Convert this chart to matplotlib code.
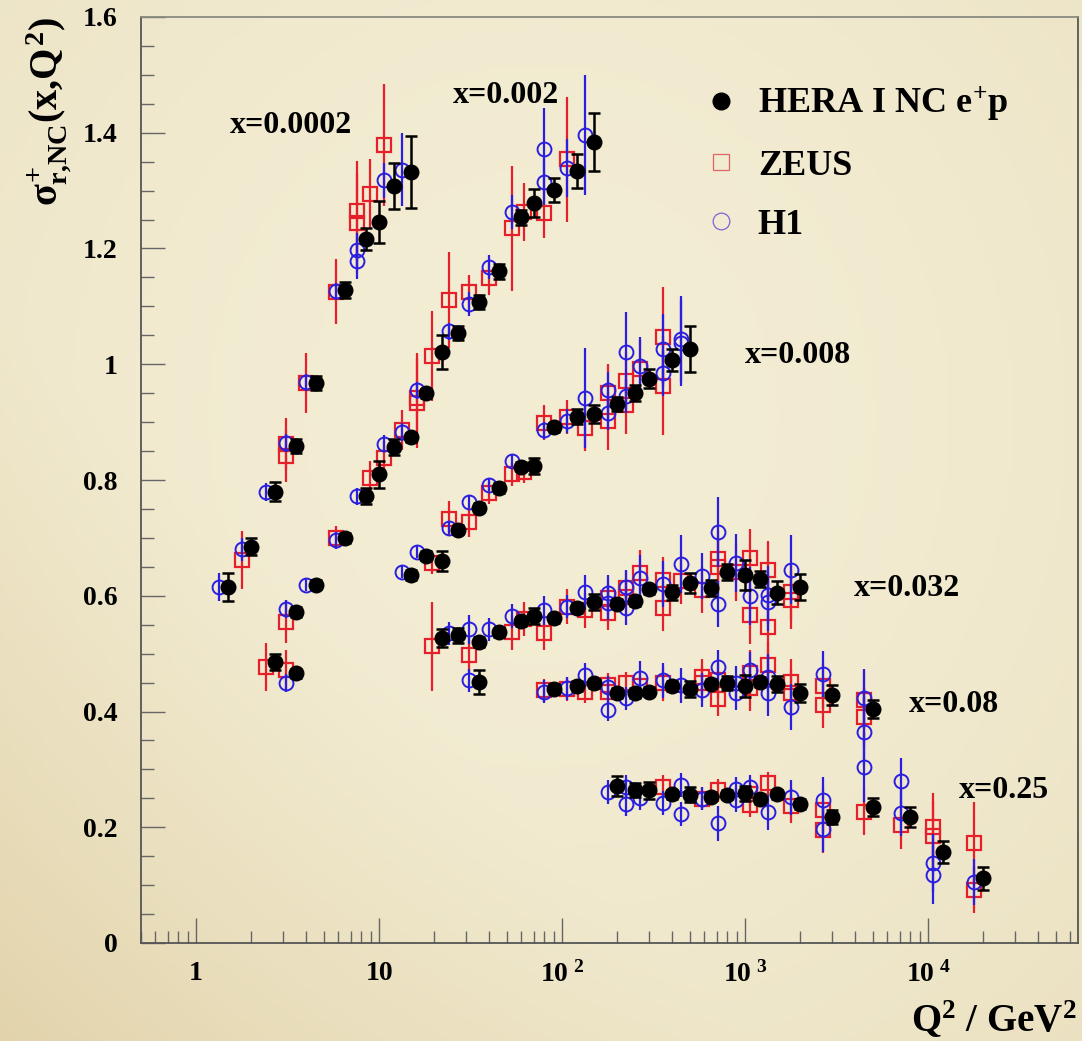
import numpy as np
import matplotlib
matplotlib.use("Agg")
import matplotlib.pyplot as plt
from matplotlib.lines import Line2D
from matplotlib.ticker import FixedLocator, FixedFormatter, LogLocator, MultipleLocator, FuncFormatter

plt.rcParams['font.family'] = ['Liberation Serif', 'DejaVu Serif']
plt.rcParams['font.weight'] = 'bold'
plt.rcParams['mathtext.fontset'] = 'custom'
plt.rcParams['mathtext.rm'] = 'Liberation Serif:bold'
plt.rcParams['mathtext.it'] = 'Liberation Serif:bold'
plt.rcParams['mathtext.bf'] = 'Liberation Serif:bold'

# ---------------- data ----------------
x_bins = ['x=0.0002', 'x=0.002', 'x=0.008', 'x=0.032', 'x=0.08', 'x=0.25']

# HERA I combined, per x bin: Q2, sigma_r, error
hera_q2 = [
    [1.5, 2, 2.7, 3.5, 4.5, 6.5, 8.5, 10, 12, 15],
    [3.5, 4.5, 6.5, 8.5, 10, 12, 15, 18, 22, 27, 35, 45, 60, 70, 90, 120, 150],
    [2.7, 3.5, 15, 18, 22, 27, 35, 45, 60, 70, 90, 120, 150, 200, 250, 300, 400, 500],
    [22, 27, 35, 45, 60, 70, 90, 120, 150, 200, 250, 300, 400, 500, 650, 800, 1000, 1200, 1500, 2000],
    [35, 90, 120, 150, 200, 250, 300, 400, 500, 650, 800, 1000, 1200, 1500, 2000, 3000, 5000],
    [200, 250, 300, 400, 500, 650, 800, 1000, 1200, 1500, 2000, 3000, 5000, 8000, 12000, 20000],
]
hera_sig = [
    [0.615, 0.685, 0.780, 0.859, 0.968, 1.128, 1.216, 1.246, 1.308, 1.332],
    [0.572, 0.619, 0.700, 0.772, 0.810, 0.857, 0.874, 0.950, 1.021, 1.054, 1.108, 1.161, 1.254, 1.278, 1.301, 1.334, 1.384],
    [0.486, 0.466, 0.636, 0.669, 0.660, 0.714, 0.752, 0.786, 0.823, 0.824, 0.891, 0.909, 0.914, 0.931, 0.950, 0.975, 1.007, 1.026],
    [0.527, 0.532, 0.520, 0.537, 0.556, 0.565, 0.561, 0.579, 0.589, 0.586, 0.591, 0.611, 0.606, 0.622, 0.613, 0.641, 0.636, 0.629, 0.605, 0.615],
    [0.451, 0.439, 0.444, 0.449, 0.432, 0.432, 0.434, 0.444, 0.439, 0.448, 0.449, 0.444, 0.451, 0.448, 0.432, 0.429, 0.404],
    [0.271, 0.264, 0.264, 0.257, 0.256, 0.253, 0.256, 0.259, 0.249, 0.257, 0.240, 0.218, 0.235, 0.218, 0.157, 0.112],
]
hera_err = [
    [0.024, 0.015, 0.016, 0.012, 0.012, 0.014, 0.019, 0.036, 0.039, 0.062],
    [0.008, 0.008, 0.008, 0.014, 0.023, 0.013, 0.008, 0.008, 0.030, 0.012, 0.012, 0.013, 0.013, 0.024, 0.020, 0.029, 0.050],
    [0.014, 0.008, 0.008, 0.008, 0.018, 0.008, 0.008, 0.008, 0.008, 0.014, 0.008, 0.013, 0.016, 0.012, 0.014, 0.016, 0.019, 0.040],
    [0.016, 0.013, 0.008, 0.008, 0.008, 0.014, 0.008, 0.008, 0.014, 0.008, 0.008, 0.008, 0.013, 0.018, 0.014, 0.014, 0.026, 0.014, 0.020, 0.023],
    [0.021, 0.008, 0.008, 0.008, 0.008, 0.008, 0.008, 0.008, 0.014, 0.008, 0.012, 0.019, 0.008, 0.014, 0.015, 0.017, 0.016],
    [0.017, 0.012, 0.015, 0.008, 0.013, 0.008, 0.008, 0.013, 0.008, 0.008, 0.008, 0.012, 0.015, 0.017, 0.019, 0.020],
]

# ZEUS
zeus_q2 = [
    [2, 3.5, 3.5, 4.5, 6.5, 8.5, 8.5, 10, 12],
    [3.5, 6.5, 10, 12, 15, 18, 18, 22, 27, 35, 45, 60, 70, 90, 120],
    [2.7, 3.5, 22, 27, 35, 45, 60, 70, 90, 120, 150, 200, 200, 250, 250, 300, 400, 400],
    [22, 35, 60, 70, 90, 120, 150, 200, 200, 250, 250, 300, 400, 400, 500, 650, 800, 800, 1000, 1200, 1200, 1500, 1500, 2000, 2000],
    [90, 120, 150, 200, 200, 250, 300, 400, 650, 650, 800, 800, 1200, 1200, 1500, 2000, 2000, 3000, 3000, 5000, 5000],
    [400, 650, 800, 1200, 1200, 1500, 2000, 3000, 3000, 5000, 8000, 12000, 12000, 20000, 20000],
]
zeus_sig = [
    [0.662, 0.862, 0.841, 0.968, 1.125, 1.265, 1.244, 1.294, 1.379],
    [0.555, 0.700, 0.803, 0.838, 0.886, 0.942, 0.933, 1.014, 1.111, 1.125, 1.149, 1.235, 1.263, 1.261, 1.354],
    [0.477, 0.472, 0.657, 0.733, 0.727, 0.778, 0.810, 0.814, 0.899, 0.909, 0.890, 0.950, 0.902, 0.971, 0.930, 0.992, 1.047, 0.963],
    [0.513, 0.498, 0.537, 0.560, 0.536, 0.581, 0.575, 0.596, 0.570, 0.613, 0.597, 0.639, 0.627, 0.579, 0.625, 0.610, 0.663, 0.650, 0.641, 0.665, 0.567, 0.645, 0.546, 0.607, 0.593],
    [0.437, 0.439, 0.434, 0.434, 0.446, 0.449, 0.444, 0.449, 0.460, 0.449, 0.422, 0.454, 0.467, 0.441, 0.480, 0.451, 0.432, 0.444, 0.411, 0.420, 0.391],
    [0.270, 0.249, 0.264, 0.257, 0.238, 0.276, 0.237, 0.230, 0.195, 0.226, 0.204, 0.200, 0.185, 0.173, 0.092],
]
zeus_err = [
    [0.050, 0.045, 0.045, 0.052, 0.056, 0.087, 0.087, 0.060, 0.106],
    [0.037, 0.020, 0.030, 0.030, 0.035, 0.078, 0.078, 0.078, 0.083, 0.030, 0.030, 0.108, 0.050, 0.042, 0.108],
    [0.042, 0.035, 0.020, 0.030, 0.025, 0.020, 0.020, 0.020, 0.030, 0.030, 0.040, 0.050, 0.050, 0.050, 0.050, 0.050, 0.086, 0.086],
    [0.077, 0.030, 0.030, 0.030, 0.030, 0.030, 0.030, 0.030, 0.030, 0.030, 0.030, 0.040, 0.040, 0.040, 0.040, 0.040, 0.050, 0.050, 0.050, 0.050, 0.050, 0.050, 0.080, 0.050, 0.050],
    [0.020, 0.020, 0.020, 0.020, 0.020, 0.020, 0.020, 0.030, 0.030, 0.030, 0.030, 0.030, 0.040, 0.040, 0.040, 0.040, 0.040, 0.040, 0.040, 0.050, 0.050],
    [0.020, 0.020, 0.020, 0.020, 0.020, 0.020, 0.030, 0.040, 0.040, 0.040, 0.042, 0.060, 0.060, 0.070, 0.040],
]

# H1
h1_q2 = [
    [1.5, 2, 2.7, 3.5, 4.5, 6.5, 8.5, 8.5, 12, 15],
    [3.5, 4.5, 6.5, 8.5, 12, 15, 18, 27, 35, 45, 60, 90, 90, 120, 150],
    [3.5, 15, 18, 27, 35, 45, 60, 90, 120, 150, 200, 200, 250, 250, 300, 400, 400, 500, 500],
    [27, 35, 45, 60, 90, 120, 150, 200, 200, 250, 250, 300, 400, 500, 650, 800, 800, 1000, 1200, 1500, 1500, 2000],
    [35, 90, 120, 150, 200, 200, 250, 300, 400, 500, 650, 800, 1000, 1000, 1200, 1500, 1500, 2000, 3000, 5000, 5000],
    [200, 250, 250, 300, 400, 500, 500, 650, 800, 1000, 1000, 1200, 1500, 2000, 3000, 3000, 5000, 8000, 8000, 12000, 12000, 20000],
]
h1_sig = [
    [0.615, 0.680, 0.779, 0.864, 0.969, 1.126, 1.197, 1.178, 1.318, 1.336],
    [0.577, 0.619, 0.696, 0.772, 0.863, 0.883, 0.955, 1.057, 1.104, 1.168, 1.263, 1.315, 1.372, 1.339, 1.396],
    [0.449, 0.641, 0.676, 0.717, 0.762, 0.791, 0.833, 0.886, 0.902, 0.942, 0.956, 0.916, 1.021, 0.945, 0.997, 1.026, 0.985, 1.037, 1.044],
    [0.535, 0.542, 0.542, 0.565, 0.575, 0.581, 0.606, 0.605, 0.588, 0.615, 0.579, 0.630, 0.620, 0.655, 0.634, 0.710, 0.586, 0.657, 0.600, 0.601, 0.589, 0.645],
    [0.454, 0.434, 0.440, 0.463, 0.442, 0.403, 0.423, 0.458, 0.454, 0.445, 0.437, 0.477, 0.449, 0.432, 0.472, 0.460, 0.432, 0.408, 0.465, 0.423, 0.365],
    [0.261, 0.240, 0.270, 0.250, 0.242, 0.273, 0.223, 0.249, 0.207, 0.266, 0.247, 0.270, 0.226, 0.252, 0.247, 0.197, 0.304, 0.280, 0.225, 0.138, 0.118, 0.105],
]
h1_err = [
    [0.024, 0.020, 0.015, 0.015, 0.015, 0.015, 0.030, 0.030, 0.030, 0.063],
    [0.015, 0.010, 0.015, 0.015, 0.015, 0.015, 0.015, 0.015, 0.020, 0.020, 0.030, 0.040, 0.070, 0.050, 0.104],
    [0.015, 0.010, 0.010, 0.010, 0.010, 0.010, 0.010, 0.015, 0.020, 0.086, 0.030, 0.030, 0.070, 0.030, 0.050, 0.060, 0.040, 0.074, 0.074],
    [0.020, 0.025, 0.020, 0.020, 0.025, 0.020, 0.030, 0.030, 0.030, 0.030, 0.030, 0.040, 0.040, 0.050, 0.040, 0.060, 0.040, 0.050, 0.050, 0.050, 0.050, 0.060],
    [0.020, 0.020, 0.020, 0.020, 0.020, 0.020, 0.020, 0.030, 0.030, 0.030, 0.030, 0.030, 0.030, 0.030, 0.030, 0.040, 0.040, 0.040, 0.040, 0.050, 0.060],
    [0.020, 0.020, 0.020, 0.020, 0.020, 0.020, 0.020, 0.020, 0.030, 0.020, 0.020, 0.020, 0.030, 0.030, 0.040, 0.040, 0.060, 0.040, 0.040, 0.050, 0.050, 0.040],
]

# where the x-bin labels sit (Q2, sigma)
label_q2 = [1.53, 25.4, 1000, 3944, 7870, 14770]
label_sig = [1.400, 1.451, 1.002, 0.600, 0.399, 0.250]

# ZEUS and H1 are drawn slightly left of the HERA points
shift = 0.89

red = '#e5202a'
blue = '#2a1fe0'

fig = plt.figure(figsize=(10.82, 10.41), dpi=100)

# parchment-ish backdrop, a bit darker towards the lower left
bg = fig.add_axes([0, 0, 1, 1], zorder=-10)
gx, gy = np.meshgrid(np.linspace(-1, 1, 200), np.linspace(-1, 1, 200))
shade = np.clip(0.18 * gx**2 + 0.15 * (gy + 0.2)**2 + 0.35 * np.clip(-gx + gy - 0.6, 0, None), 0, 1)
light = np.array([243, 237, 212]) / 255.
dark = np.array([224, 208, 166]) / 255.
img = light[None, None, :] * (1 - shade[..., None]) + dark[None, None, :] * shade[..., None]
bg.imshow(img, aspect='auto', extent=[0, 1, 0, 1], origin='upper')
bg.axis('off')

ax = fig.add_axes([141 / 1082, 1 - 943 / 1041, 937 / 1082, 926 / 1041])
ax.patch.set_alpha(0)

for i in range(len(x_bins)):
    ax.errorbar(np.array(zeus_q2[i]) * shift, zeus_sig[i], yerr=zeus_err[i], fmt='s',
                ms=9.5, mfc='none', mec=red, mew=1.6, ecolor=red, elinewidth=1.6, zorder=2)
    ax.errorbar(np.array(h1_q2[i]) * shift, h1_sig[i], yerr=h1_err[i], fmt='o',
                ms=10, mfc='none', mec=blue, mew=1.4, ecolor=blue, elinewidth=1.6, zorder=3)
for i in range(len(x_bins)):
    ax.errorbar(hera_q2[i], hera_sig[i], yerr=hera_err[i], fmt='o', ms=10.5, color='black',
                elinewidth=1.8, capsize=4.5, capthick=1.8, zorder=4)
    ax.text(label_q2[i], label_sig[i], x_bins[i], fontsize=23, fontweight='bold',
            ha='left', va='baseline')

ax.set_xscale('log')
ax.set_xlim(0.5, 6.6e4)
ax.set_ylim(0, 1.6)

ax.xaxis.set_major_locator(FixedLocator([1, 10, 100, 1000, 10000]))
ax.xaxis.set_major_formatter(FixedFormatter(['1', '10', '$10^{\\ 2}$', '$10^{\\ 3}$', '$10^{\\ 4}$']))
ax.xaxis.set_minor_locator(LogLocator(base=10, subs=np.arange(2, 10)))
ax.yaxis.set_major_locator(MultipleLocator(0.2))
ax.yaxis.set_minor_locator(MultipleLocator(0.05))
ax.yaxis.set_major_formatter(FuncFormatter(lambda v, p: '%g' % round(v, 2)))

ax.tick_params(axis='both', which='both', direction='in', color='#666666', width=1.0,
               top=False, right=False)
ax.tick_params(axis='y', which='major', length=17, labelsize=20, pad=17)
ax.tick_params(axis='y', which='minor', length=9)
ax.tick_params(axis='x', which='major', length=18, labelsize=20, pad=13)
ax.tick_params(axis='x', which='minor', length=9)
for lab in ax.get_xticklabels() + ax.get_yticklabels():
    lab.set_fontweight('bold')
for s in ax.spines.values():
    s.set_color('#555555')
    s.set_linewidth(1.3)
ax.spines['top'].set_color('#8a8a80')

handles = [
    Line2D([], [], ls='none', marker='o', ms=12, color='black'),
    Line2D([], [], ls='none', marker='s', ms=12, mfc='none', mec='#e06464', mew=0.9),
    Line2D([], [], ls='none', marker='o', ms=12, mfc='none', mec='#7a66d8', mew=0.9),
]
leg = ax.legend(handles, ['HERA I NC e$^{+}$p', 'ZEUS', 'H1'], loc='upper left',
                bbox_to_anchor=(0.565, 0.962), frameon=False,
                handletextpad=0.52, labelspacing=0.71, handlelength=1.0,
                prop={'weight': 'bold', 'size': 26})

fig.text(0.045, 0.984, r'$\sigma^{+}_{r{,}NC}(x{,}Q^{2})$', rotation=90, ha='center', va='top',
         fontsize=29)
fig.text(1077 / 1082, 1 - 1032 / 1041, r'Q$^{2}$ / GeV$^{2}$', ha='right', va='baseline',
         fontsize=28, fontweight='bold')

fig.savefig('out.png', dpi=100)
